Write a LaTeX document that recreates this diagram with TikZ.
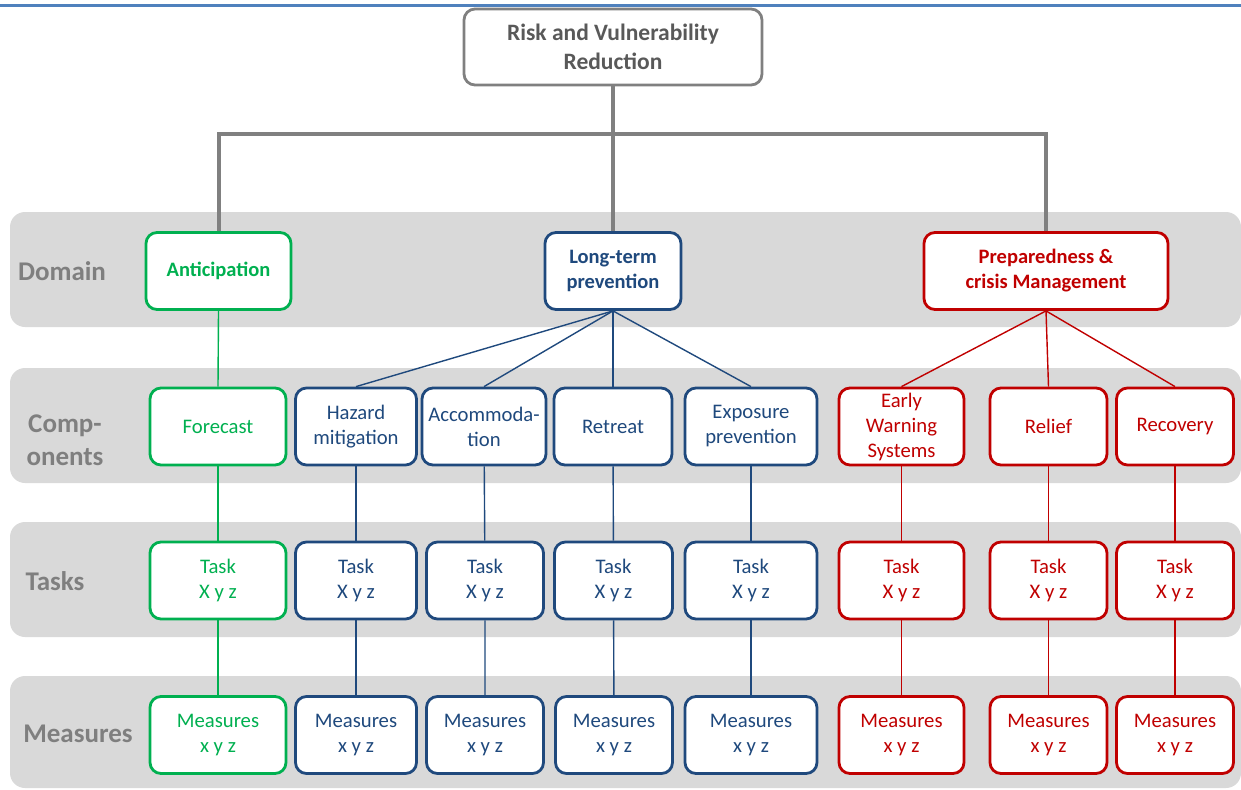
\documentclass[tikz,border=0pt]{standalone}
\usepackage{fontspec}
\setmainfont{Carlito}
\definecolor{band}{HTML}{D9D9D9}
\definecolor{lbl}{HTML}{7F7F7F}
\definecolor{rootline}{HTML}{808080}
\definecolor{roottext}{HTML}{595959}
\definecolor{ggreen}{HTML}{00B050}
\definecolor{dblue}{HTML}{1F497D}
\definecolor{dred}{HTML}{C00000}
\definecolor{rule}{HTML}{4F81BD}
\begin{document}
\begin{tikzpicture}[x=1pt,y=-1pt,
  bandbox/.style={fill=band,draw=none,rounded corners=15pt},
  bandlabel/.style={text=lbl,font=\fontsize{27}{33}\selectfont\bfseries,align=center},
  box/.style={draw=#1,text=#1,fill=white,line width=2.8pt,rounded corners=11pt,
    align=center,inner sep=0pt,minimum height=77pt,font=\fontsize{20.7}{25}\selectfont},
  dombox/.style={box=#1,font=\fontsize{20.5}{25}\selectfont\bfseries},
  link/.style={draw=#1,line width=1.4pt},
  rootlink/.style={draw=rootline,line width=4pt}]
\useasboundingbox (0,0) rectangle (1241,789);
% header rule
\draw[rule,line width=3pt] (0,6) -- (1241,6);
% horizontal bands
\fill[bandbox] (10,212) rectangle (1241,327);
\fill[bandbox] (10,368) rectangle (1241,483);
\fill[bandbox] (10,522) rectangle (1241,637);
\fill[bandbox] (10,676) rectangle (1241,788);
\node[bandlabel] (lDomain) at (62,271) {Domain};
\node[bandlabel] (lComp) at (65,440) {Comp-\\onents};
\node[bandlabel] (lTasks) at (55,581) {Tasks};
\node[bandlabel] (lMeas) at (78,734) {Measures};
% root
\node[draw=rootline,text=roottext,fill=white,line width=2.8pt,rounded corners=11pt,
  align=center,inner sep=0pt,minimum width=298pt,minimum height=76pt,
  font=\fontsize{23.5}{29}\selectfont\bfseries] (root) at (613,47) {Risk and Vulnerability\\Reduction};
% domains
\node[dombox=ggreen,minimum width=145pt] (ant) at (218.5,271) {Anticipation};
\node[dombox=dblue,minimum width=136pt] (ltp) at (613,271) {Long-term\\prevention};
\node[dombox=dred,minimum width=244pt] (pcm) at (1046,271) {Preparedness \&\\crisis Management};
% components
\node[box=ggreen,minimum width=136pt] (cFor) at (218,426.5) {Forecast};
\node[box=dblue,minimum width=121pt] (cHaz) at (356,426.5) {Hazard\\mitigation};
\node[box=dblue,minimum width=124pt] (cAcc) at (484,426.5) {Accommoda-\\tion};
\node[box=dblue,minimum width=118pt] (cRet) at (613,426.5) {Retreat};
\node[box=dblue,minimum width=132pt] (cExp) at (751,426.5) {Exposure\\prevention};
\node[box=dred,minimum width=125pt] (cEws) at (901.5,426.5) {Early\\Warning\\Systems};
\node[box=dred,minimum width=117pt] (cRel) at (1048.5,426.5) {Relief};
\node[box=dred,minimum width=117pt] (cRec) at (1175,426.5) {Recovery};
% tasks
\node[box=ggreen,minimum width=136pt] (tFor) at (218,580.5) {Task\\X y z};
\node[box=dblue,minimum width=121pt] (tHaz) at (356,580.5) {Task\\X y z};
\node[box=dblue,minimum width=117pt] (tAcc) at (485,580.5) {Task\\X y z};
\node[box=dblue,minimum width=118pt] (tRet) at (613.5,580.5) {Task\\X y z};
\node[box=dblue,minimum width=132pt] (tExp) at (751,580.5) {Task\\X y z};
\node[box=dred,minimum width=125pt] (tEws) at (901.5,580.5) {Task\\X y z};
\node[box=dred,minimum width=117pt] (tRel) at (1048.5,580.5) {Task\\X y z};
\node[box=dred,minimum width=117pt] (tRec) at (1175,580.5) {Task\\X y z};
% measures
\node[box=ggreen,minimum width=136pt] (mFor) at (218,735) {Measures\\x y z};
\node[box=dblue,minimum width=121pt] (mHaz) at (356,735) {Measures\\x y z};
\node[box=dblue,minimum width=117pt] (mAcc) at (485,735) {Measures\\x y z};
\node[box=dblue,minimum width=117pt] (mRet) at (614,735) {Measures\\x y z};
\node[box=dblue,minimum width=132pt] (mExp) at (751,735) {Measures\\x y z};
\node[box=dred,minimum width=125pt] (mEws) at (901.5,735) {Measures\\x y z};
\node[box=dred,minimum width=117pt] (mRel) at (1048.5,735) {Measures\\x y z};
\node[box=dred,minimum width=117pt] (mRec) at (1175,735) {Measures\\x y z};
% root to domains
\coordinate (hub) at (613,134);
\draw[rootlink] (root.south) -- (ltp.north);
\draw[rootlink,line join=miter] (ant.north) -- (ant.north |- hub) -- (pcm.north |- hub) -- (pcm.north);
% domain to components
\draw[link=ggreen] (ant.south) -- (cFor.north);
\foreach \c in {cHaz,cAcc,cRet,cExp} \draw[link=dblue] (ltp.south) -- (\c.north);
\foreach \c in {cEws,cRel,cRec} \draw[link=dred] (pcm.south) -- (\c.north);
% components to tasks to measures
\draw[link=ggreen] (cFor) -- (tFor) (tFor) -- (mFor);
\foreach \k in {Haz,Acc,Ret,Exp} \draw[link=dblue] (c\k) -- (t\k) (t\k) -- (m\k);
\foreach \k in {Ews,Rel,Rec} \draw[link=dred] (c\k) -- (t\k) (t\k) -- (m\k);
\end{tikzpicture}
\end{document}
